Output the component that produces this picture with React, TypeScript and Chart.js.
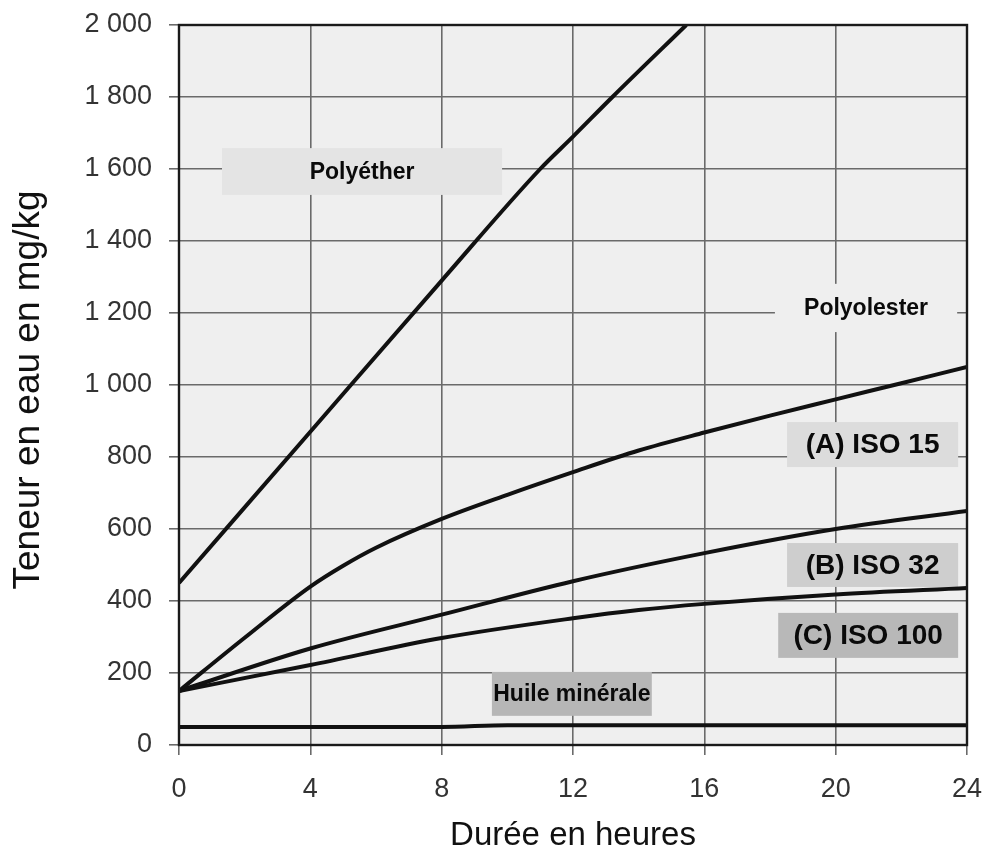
import React, { useEffect, useRef } from "react";
import { Chart, registerables } from "chart.js";

Chart.register(...registerables);

// ---- data ----
const xTicks = [0, 4, 8, 12, 16, 20, 24];
const polyetherX = [0, 4, 8, 11, 12, 13.2, 15.45];
const polyetherY = [450, 870, 1290, 1600, 1690, 1800, 2000];
const polyolesterX = [0, 2, 4, 5, 6, 8, 10, 12, 14, 16, 18, 20, 22, 24];
const polyolesterY = [150, 298, 440, 498, 548, 628, 695, 758, 818, 868, 915, 960, 1005, 1050];
const iso32X = [0, 4, 8, 12, 16, 20, 24];
const iso32Y = [150, 268, 362, 455, 533, 600, 650];
const iso100X = [0, 4, 8, 12, 14, 16, 20, 24];
const iso100Y = [150, 222, 297, 352, 375, 392, 418, 436];
const mineralX = [0, 8, 10, 24];
const mineralY = [50, 50, 55, 55];

const labelTexts = ["Polyéther", "Polyolester", "(A) ISO 15", "(B) ISO 32", "(C) ISO 100", "Huile minérale"];
// box extents in data units [x0, x1, yTop, yBottom]
const labelBoxes = [
  [1.31, 9.84, 1658, 1528],
  [18.15, 23.7, 1281, 1147],
  [18.52, 23.73, 897, 772],
  [18.52, 23.73, 561, 439],
  [18.25, 23.73, 367, 242],
  [9.53, 14.4, 203, 81],
];
const labelFills = ["#e4e4e4", "#efefef", "#dcdcdc", "#cecece", "#b8b8b8", "#b6b6b6"];
const labelSizes = [23, 23, 28, 28, 28, 23];

const yTitle = "Teneur en eau en mg/kg";
const xTitle = "Durée en heures";

const FONT = "'Liberation Sans', Arial, Helvetica, sans-serif";
const PLOT_BG = "#efefef";

function pts(xs: number[], ys: number[]) {
  return xs.map((x, i) => ({ x, y: ys[i] }));
}

function fmt(v: number) {
  if (v >= 1000) {
    return `${Math.floor(v / 1000)} ${String(v % 1000).padStart(3, "0")}`;
  }
  return String(v);
}

function noPad(scale: any) {
  scale.paddingLeft = 0;
  scale.paddingRight = 0;
  scale.paddingTop = 0;
  scale.paddingBottom = 0;
}

export default function App() {
  const ref = useRef<HTMLCanvasElement | null>(null);

  useEffect(() => {
    if (!ref.current) return;
    const lineStyle = {
      borderColor: "#111",
      borderWidth: 4,
      pointRadius: 0,
      fill: false,
      tension: 0.3,
      cubicInterpolationMode: "monotone" as const,
    };

    const decor = {
      id: "decor",
      beforeDraw(chart: any) {
        const { ctx, chartArea: a } = chart;
        ctx.save();
        ctx.fillStyle = PLOT_BG;
        ctx.fillRect(a.left, a.top, a.right - a.left, a.bottom - a.top);
        ctx.restore();
      },
      beforeDatasetsDraw(chart: any) {
        const { ctx } = chart;
        const xs = chart.scales.x;
        const ys = chart.scales.y;
        ctx.save();
        labelBoxes.forEach((b, i) => {
          const x0 = xs.getPixelForValue(b[0]);
          const x1 = xs.getPixelForValue(b[1]);
          const y0 = ys.getPixelForValue(b[2]);
          const y1 = ys.getPixelForValue(b[3]);
          ctx.fillStyle = labelFills[i];
          ctx.fillRect(x0, y0, x1 - x0, y1 - y0);
          ctx.fillStyle = "#0a0a0a";
          ctx.font = `bold ${labelSizes[i]}px ${FONT}`;
          ctx.textAlign = "center";
          ctx.textBaseline = "middle";
          ctx.fillText(labelTexts[i], (x0 + x1) / 2, (y0 + y1) / 2 + 1);
        });
        ctx.restore();
      },
      afterDraw(chart: any) {
        const { ctx, chartArea: a } = chart;
        ctx.save();
        ctx.strokeStyle = "#1a1a1a";
        ctx.lineWidth = 2.4;
        ctx.strokeRect(a.left, a.top, a.right - a.left, a.bottom - a.top);
        ctx.fillStyle = "#111";
        ctx.textAlign = "center";
        ctx.textBaseline = "middle";
        ctx.font = `33px ${FONT}`;
        ctx.fillText(xTitle, (a.left + a.right) / 2, 836);
        ctx.translate(29, (a.top + a.bottom) / 2 + 5);
        ctx.rotate(-Math.PI / 2);
        ctx.font = `37px ${FONT}`;
        ctx.fillText(yTitle, 0, 0);
        ctx.restore();
      },
    };

    const chart = new Chart(ref.current, {
      type: "line",
      data: {
        datasets: [
          { label: "Polyéther", data: pts(polyetherX, polyetherY), ...lineStyle },
          { label: "Polyolester", data: pts(polyolesterX, polyolesterY), ...lineStyle },
          { label: "(B) ISO 32", data: pts(iso32X, iso32Y), ...lineStyle },
          { label: "(C) ISO 100", data: pts(iso100X, iso100Y), ...lineStyle },
          { label: "Huile minérale", data: pts(mineralX, mineralY), ...lineStyle },
        ],
      },
      options: {
        responsive: false,
        animation: false,
        layout: { padding: { left: 0, top: 25, right: 17, bottom: 0 } },
        plugins: { legend: { display: false }, tooltip: { enabled: false } },
        scales: {
          x: {
            type: "linear",
            min: 0,
            max: 24,
            afterFit(scale: any) {
              scale.height = 107;
              noPad(scale);
            },
            afterBuildTicks(scale: any) {
              scale.ticks = xTicks.map((v) => ({ value: v }));
            },
            grid: { color: "#6a6a6a", lineWidth: 1.6, tickLength: 10, tickColor: "#6a6a6a" },
            border: { display: false },
            ticks: {
              color: "#333",
              padding: 18,
              font: { family: FONT, size: 27 },
              maxRotation: 0,
            },
          },
          y: {
            type: "linear",
            min: 0,
            max: 2000,
            afterFit(scale: any) {
              scale.width = 179;
              noPad(scale);
            },
            grid: { color: "#6a6a6a", lineWidth: 1.6, tickLength: 10, tickColor: "#6a6a6a" },
            border: { display: false },
            ticks: {
              stepSize: 200,
              color: "#333",
              padding: 17,
              font: { family: FONT, size: 27 },
              callback: (v: any) => fmt(Number(v)),
            },
          },
        },
      },
      plugins: [decor],
    });
    return () => chart.destroy();
  }, []);

  return (
    <div style={{ position: "absolute", left: 0, top: 0, width: 984, height: 852, background: "#fff" }}>
      <canvas ref={ref} width={984} height={852} style={{ width: 984, height: 852, display: "block" }} />
    </div>
  );
}
